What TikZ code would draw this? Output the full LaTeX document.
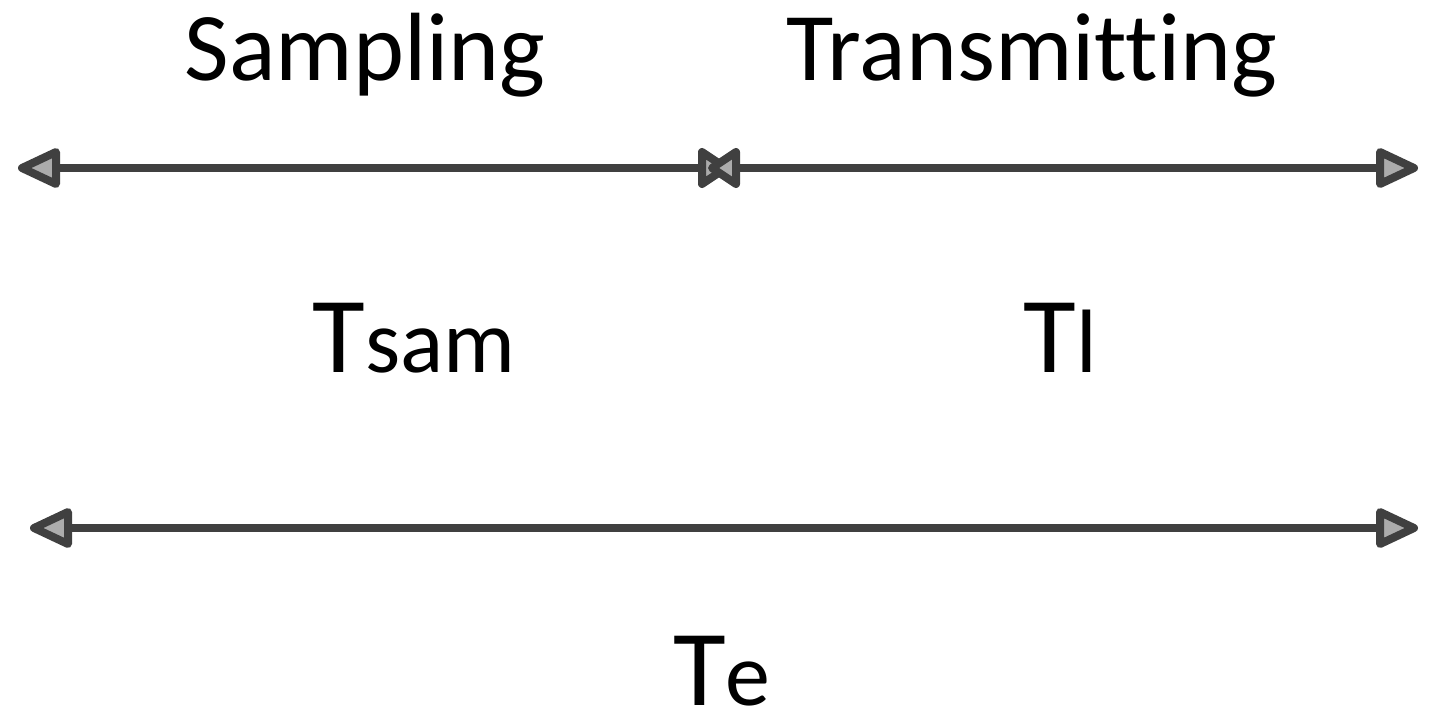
\documentclass[tikz,border=0pt]{standalone}
\usepackage{fontspec}
\setmainfont[Ligatures=CommonOff]{Carlito}
\begin{document}
\begin{tikzpicture}[x=1pt,y=-1pt,
  ln/.style={draw=black!75,line width=8.5pt},
  hd/.style={draw=black!75,line width=8pt,line join=round,fill=gray!65},
  lbl/.style={anchor=base,inner sep=0pt,font=\fontsize{97}{97}\selectfont},
  big/.style={anchor=base,inner sep=0pt}]
\useasboundingbox (0,0) rectangle (1440,724);
\coordinate (a1) at (22,168);
\coordinate (a2) at (726,168);
\coordinate (b1) at (712,168);
\coordinate (b2) at (1414,168);
\coordinate (c1) at (34,528);
\coordinate (c2) at (1414,528);
\draw[ln] (a1) -- (a2);
\draw[ln] (b1) -- (b2);
\draw[ln] (c1) -- (c2);
\draw[hd] (a1) -- ++(34,-16) -- ++(0,32) -- cycle;
\draw[hd] (a2) -- ++(-24,-16) -- ++(0,32) -- cycle;
\draw[hd] (b1) -- ++(24,-16) -- ++(0,32) -- cycle;
\draw[hd] (b2) -- ++(-34,-16) -- ++(0,32) -- cycle;
\draw[hd] (c1) -- ++(34,-16) -- ++(0,32) -- cycle;
\draw[hd] (c2) -- ++(-34,-16) -- ++(0,32) -- cycle;
\node[lbl] (s) at (365,80) {Sampling};
\node[lbl] (t) at (1032,80) {Transmitting};
\node[big] (ts) at (414,372) {\fontsize{108}{108}\selectfont T\fontsize{90}{90}\selectfont sam};
\node[big] (tl) at (1060,372) {\fontsize{108}{108}\selectfont T\fontsize{90}{90}\selectfont l};
\node[big] (te) at (722,705) {\fontsize{108}{108}\selectfont T\fontsize{90}{90}\selectfont e};
\end{tikzpicture}
\end{document}
